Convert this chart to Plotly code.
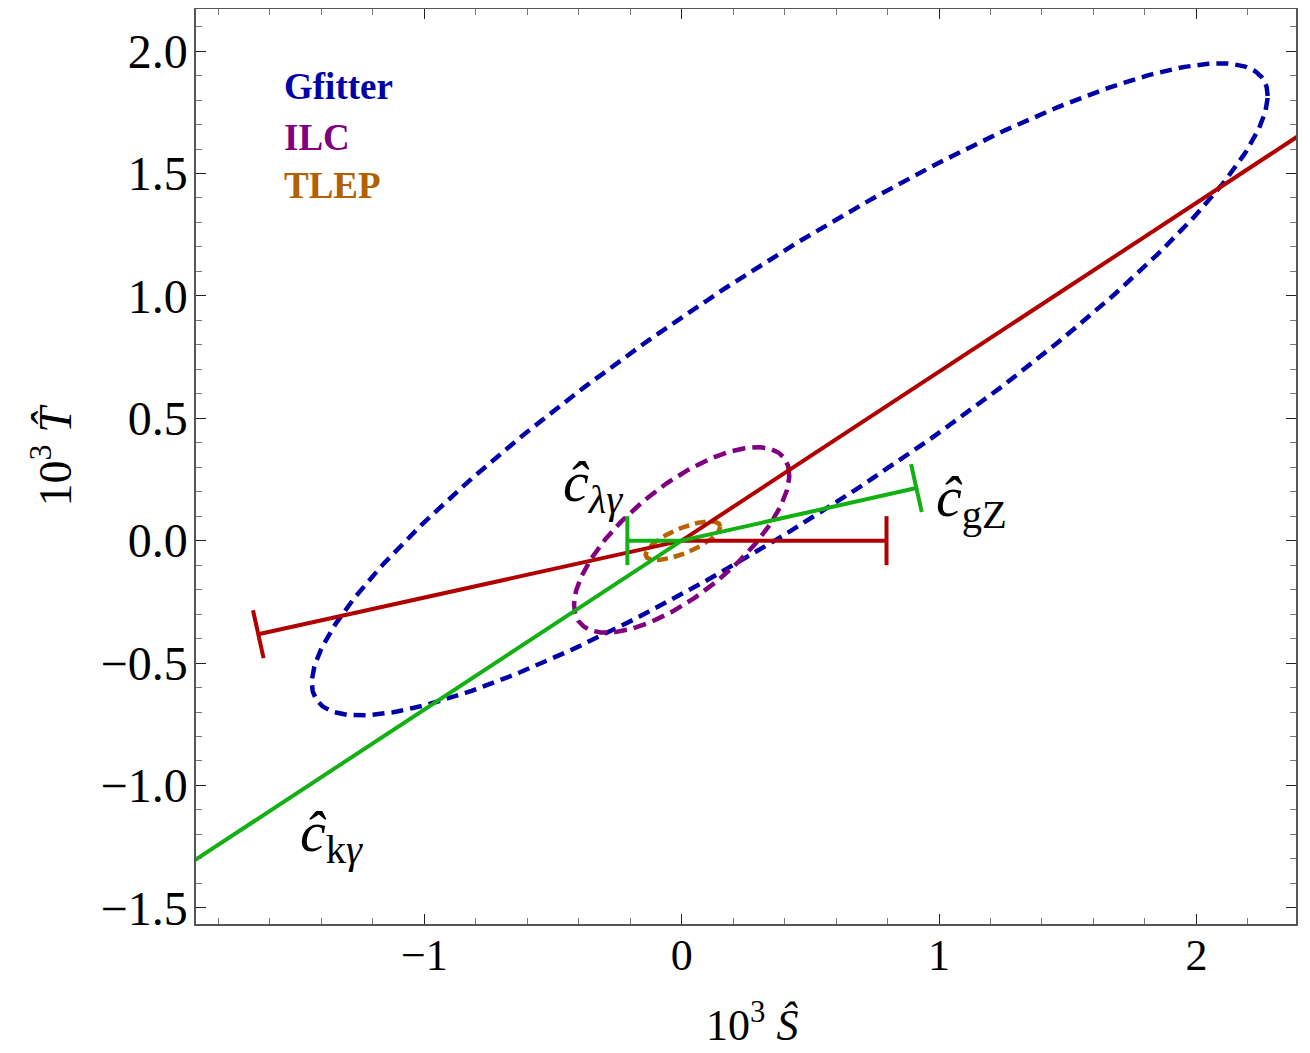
import numpy as np
import plotly.graph_objects as go

# ---------------- data ----------------
# ellipses: name, centre S, centre T, half-extent in S, half-extent in T, correlation
ellipse_names = ["Gfitter", "ILC", "TLEP"]
ellipse_cS = [0.42, 0.0, 0.005]
ellipse_cT = [0.618, 0.003, 0.0]
ellipse_sS = [1.857, 0.418, 0.145]
ellipse_sT = [1.332, 0.379, 0.079]
ellipse_rho = [0.90, 0.70, 0.72]
ellipse_colors = ["#0000a8", "#800080", "#b86200"]
ellipse_dash = ["12px,7px", "13px,7px", "11px,6px"]

# coefficient trajectories (start at SM point 0,0)
seg_S_end = [-1.645, 0.796, 2.50, -0.211, 0.912, -2.00]
seg_T_end = [-0.382, 0.0, 1.725, 0.0, 0.215, -1.38]
seg_color = ["#b00000", "#b00000", "#b00000", "#12b012", "#12b012", "#12b012"]
seg_cap = [True, True, False, True, True, False]

# labels
lab_text = ["<i>ĉ</i><sub><i>λγ</i></sub>", "<i>ĉ</i><sub>gZ</sub>", "<i>ĉ</i><sub>k<i>γ</i></sub>"]
lab_S = [-0.345, 1.128, -1.359]
lab_T = [0.225, 0.166, -1.205]

legend_text = ["Gfitter", "ILC", "TLEP"]
legend_colors = ["#0000a8", "#800080", "#b36000"]
legend_S = [-1.553, -1.553, -1.553]
legend_T = [1.857, 1.646, 1.449]

x_ticks = [-1, 0, 1, 2]
x_ticktext = ["−1", "0", "1", "2"]
y_ticks = [-1.5, -1.0, -0.5, 0.0, 0.5, 1.0, 1.5, 2.0]
y_ticktext = ["−1.5", "−1.0", "−0.5", "0.0", "0.5", "1.0", "1.5", "2.0"]

x_range = [-1.887, 2.387]
y_range = [-1.566, 2.172]

FONT = "Liberation Serif"

fig = go.Figure()

t = np.linspace(0, 2 * np.pi, 400)
for i in range(len(ellipse_names)):
    rho = ellipse_rho[i]
    xs = ellipse_cS[i] + ellipse_sS[i] * np.cos(t)
    ys = ellipse_cT[i] + ellipse_sT[i] * (rho * np.cos(t) + np.sqrt(1 - rho ** 2) * np.sin(t))
    fig.add_trace(go.Scatter(x=xs, y=ys, mode="lines", name=ellipse_names[i],
                             line=dict(color=ellipse_colors[i], width=4.5, dash=ellipse_dash[i]),
                             hoverinfo="skip"))

for i in range(len(seg_S_end)):
    fig.add_trace(go.Scatter(
        x=[0.0, seg_S_end[i]], y=[0.0, seg_T_end[i]],
        mode="lines+markers" if seg_cap[i] else "lines",
        line=dict(color=seg_color[i], width=4),
        marker=dict(symbol="line-ew", size=[0, 35] if seg_cap[i] else 0,
                    angleref="previous", color=seg_color[i], opacity=1,
                    line=dict(color=seg_color[i], width=4)),
        hoverinfo="skip"))

for i in range(len(lab_text)):
    fig.add_annotation(x=lab_S[i], y=lab_T[i], xref="x", yref="y", text=lab_text[i],
                       showarrow=False, font=dict(family=FONT, size=58, color="black"))

for i in range(len(legend_text)):
    fig.add_annotation(x=legend_S[i], y=legend_T[i], xref="x", yref="y",
                       text="<b>" + legend_text[i] + "</b>", xanchor="left",
                       showarrow=False, font=dict(family=FONT, size=37, color=legend_colors[i]))

# axis titles
fig.add_annotation(x=0.5055, y=-0.108, xref="paper", yref="paper",
                   xanchor="center", yanchor="middle",
                   text="10<sup>3</sup> <i>Ŝ</i>", showarrow=False,
                   font=dict(family=FONT, size=44, color="black"))
fig.add_annotation(x=-0.132, y=0.513, xref="paper", yref="paper", textangle=-90,
                   xanchor="center", yanchor="middle",
                   text="10<sup>3</sup> <i>T\u0302</i>", showarrow=False,
                   font=dict(family=FONT, size=46, color="black"))

axis_common = dict(showgrid=False, zeroline=False, showline=True, linecolor="#555",
                   linewidth=1.5, mirror="allticks", ticks="inside", tickcolor="#222",
                   tickwidth=1.2, ticklen=10)

fig.update_xaxes(range=x_range, tickvals=x_ticks, ticktext=x_ticktext,
                 tickfont=dict(family=FONT, size=44, color="black"),
                 minor=dict(dtick=0.2, tick0=0, ticks="inside", ticklen=6, tickcolor="#777", tickwidth=1),
                 ticklabelstandoff=-9, **axis_common)
fig.update_yaxes(range=y_range, tickvals=y_ticks, ticktext=y_ticktext,
                 tickfont=dict(family=FONT, size=48, color="black"),
                 minor=dict(dtick=0.1, tick0=0, ticks="inside", ticklen=6, tickcolor="#777", tickwidth=1),
                 ticklabelstandoff=-3, **axis_common)

# the page body adds an 8px offset; compensate so the plot area matches the reference
fig.update_layout(width=1302, height=1045, showlegend=False,
                  margin=dict(l=188, r=14, t=1, b=129, autoexpand=False),
                  plot_bgcolor="white", paper_bgcolor="white")

fig.write_html("out.html")
